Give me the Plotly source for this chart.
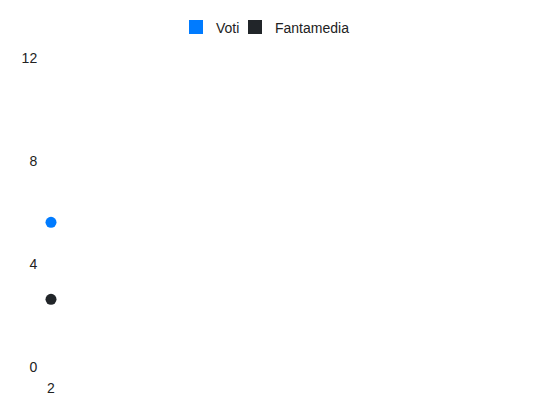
import plotly.graph_objects as go

giornate = [2]
voti = [5.62]
fantamedia = [2.63]
y_ticks = [0, 4, 8, 12]
series_names = ["Voti", "Fantamedia"]
series_colors = ["#007bff", "#212529"]
legend_ids = ["legend", "legend2"]

fig = go.Figure()
for name, vals, col, lg in zip(series_names, [voti, fantamedia], series_colors, legend_ids):
    fig.add_trace(go.Scatter(x=giornate, y=vals, mode="markers", name=name,
                             marker=dict(color=col, size=11), showlegend=False,
                             cliponaxis=False))
    fig.add_trace(go.Scatter(x=[None], y=[None], mode="markers", name=name,
                             marker=dict(color=col, size=14, symbol="square"),
                             showlegend=True, legend=lg))

W, H = 550, 412
ml, mr, mt, mb = 43, 18, 50, 53
pw, ph = W - ml - mr, H - mt - mb


def px_x(v):
    return (v - ml) / pw


def px_y(v):
    return (H - mb - v) / ph


leg_common = dict(orientation="h", xanchor="left", xref="paper", yanchor="top",
                  yref="paper", y=px_y(3.5), font=dict(size=14), itemsizing="trace",
                  itemwidth=30, bgcolor="rgba(0,0,0,0)")

fig.update_layout(
    width=W, height=H,
    margin=dict(l=ml, r=mr, t=mt, b=mb, autoexpand=False),
    paper_bgcolor="white", plot_bgcolor="white",
    font=dict(family="Liberation Sans, Arial, sans-serif", size=14, color="#222"),
    legend=dict(x=px_x(168), **leg_common),
    legend2=dict(x=px_x(227), **leg_common),
    xaxis=dict(range=[2, 12], tickvals=giornate, ticktext=[str(g) for g in giornate],
               showgrid=False, zeroline=False, showline=False, automargin=False,
               ticks="outside", ticklen=8, tickcolor="rgba(0,0,0,0)"),
    yaxis=dict(range=[0, 12], tickvals=y_ticks, showgrid=False, zeroline=False,
               showline=False, automargin=False,
               ticks="outside", ticklen=10, tickcolor="rgba(0,0,0,0)"),
)
fig.write_html("out.html")
